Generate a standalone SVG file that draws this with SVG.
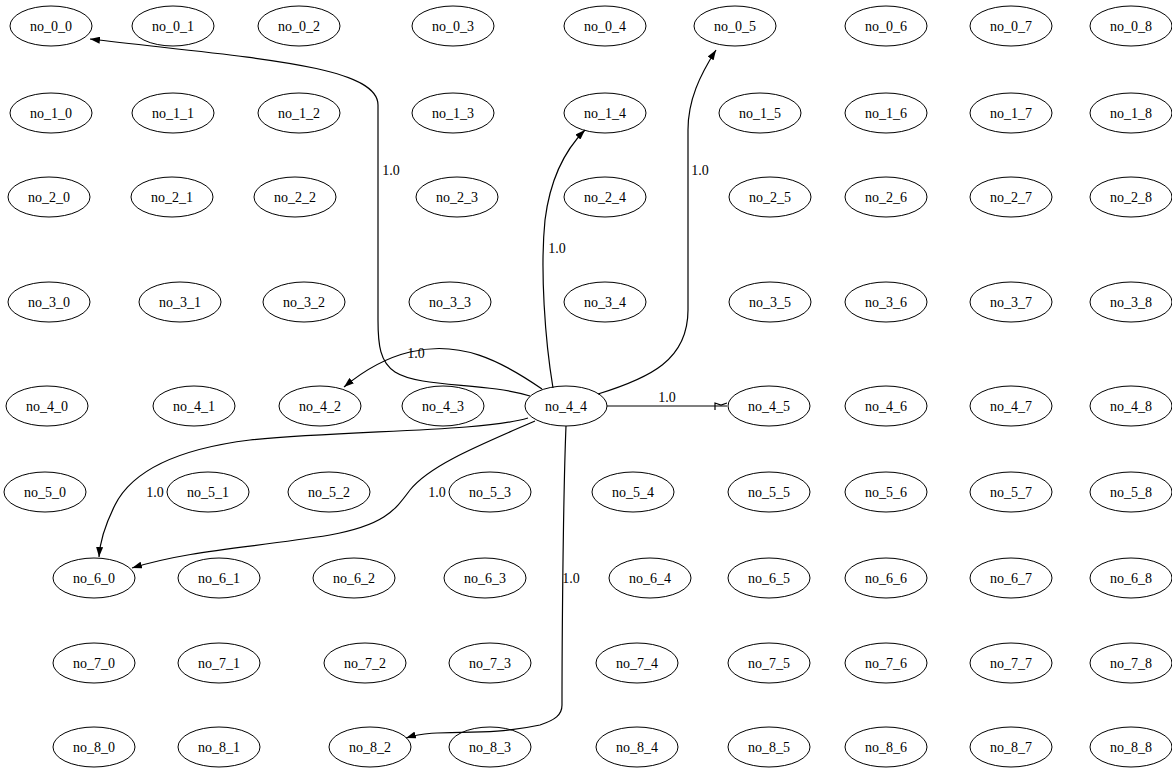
<svg xmlns="http://www.w3.org/2000/svg" width="1172" height="769" viewBox="0 0 1172 769">
<style>
.node ellipse{fill:none;stroke:#000;stroke-width:1}
text{font-family:"Liberation Serif","Times New Roman",serif;font-size:14px;text-anchor:middle;fill:#000}
.edges path{fill:none;stroke:#000;stroke-width:1.2}
</style>
<defs>
<marker id="ah" viewBox="0 0 10 7" refX="10" refY="3.5" markerWidth="10" markerHeight="7" markerUnits="userSpaceOnUse" orient="auto">
<path d="M0,0 L10,3.5 L0,7 z" fill="#000"/>
</marker>
</defs>
<rect width="1172" height="769" fill="#fff"/>
<g class="edges">
<path d="M530,396 C485,382 420,388 395,372 C380,362 378,345 378,320 L378,105 C378,65 250,58 90,39" marker-end="url(#ah)"/>
<path d="M598,394 C650,378 688,360 688,310 L688,130 C688,100 700,75 716,50" marker-end="url(#ah)"/>
<path d="M553,388 C545,340 540,270 545,220 C550,180 565,150 585,130" marker-end="url(#ah)"/>
<path d="M542,389 C500,360 460,340 410,352 C385,358 362,372 344,387" marker-end="url(#ah)"/>
<path d="M607,406 L727,406"/>
<path d="M715,410 L715,403 L721,405 L727,403" stroke-width="1.6"/>
<path d="M528,418 C480,432 350,430 250,440 C170,450 130,475 115,505 C105,525 100,540 99,557" marker-end="url(#ah)"/>
<path d="M535,421 C480,445 430,465 410,490 C395,510 385,525 330,535 C250,548 190,550 132,568" marker-end="url(#ah)"/>
<path d="M566,426 C563,500 562,650 562,705 C562,715 555,720 540,725 C480,738 440,727 406,738" marker-end="url(#ah)"/>
<text x="391" y="175">1.0</text>
<text x="700" y="175">1.0</text>
<text x="557" y="253">1.0</text>
<text x="416" y="358">1.0</text>
<text x="667" y="402">1.0</text>
<text x="155" y="497">1.0</text>
<text x="437" y="497">1.0</text>
<text x="571" y="583">1.0</text>
</g>
<g id="no_0_0" class="node"><ellipse cx="51" cy="26" rx="41" ry="20"/><text x="51" y="31">no_0_0</text></g>
<g id="no_0_1" class="node"><ellipse cx="173" cy="26" rx="41" ry="20"/><text x="173" y="31">no_0_1</text></g>
<g id="no_0_2" class="node"><ellipse cx="299" cy="26" rx="41" ry="20"/><text x="299" y="31">no_0_2</text></g>
<g id="no_0_3" class="node"><ellipse cx="453" cy="26" rx="41" ry="20"/><text x="453" y="31">no_0_3</text></g>
<g id="no_0_4" class="node"><ellipse cx="605" cy="26" rx="41" ry="20"/><text x="605" y="31">no_0_4</text></g>
<g id="no_0_5" class="node"><ellipse cx="735" cy="26" rx="41" ry="20"/><text x="735" y="31">no_0_5</text></g>
<g id="no_0_6" class="node"><ellipse cx="886" cy="26" rx="41" ry="20"/><text x="886" y="31">no_0_6</text></g>
<g id="no_0_7" class="node"><ellipse cx="1011" cy="26" rx="41" ry="20"/><text x="1011" y="31">no_0_7</text></g>
<g id="no_0_8" class="node"><ellipse cx="1131" cy="26" rx="41" ry="20"/><text x="1131" y="31">no_0_8</text></g>
<g id="no_1_0" class="node"><ellipse cx="51" cy="113" rx="41" ry="20"/><text x="51" y="118">no_1_0</text></g>
<g id="no_1_1" class="node"><ellipse cx="173" cy="113" rx="41" ry="20"/><text x="173" y="118">no_1_1</text></g>
<g id="no_1_2" class="node"><ellipse cx="299" cy="113" rx="41" ry="20"/><text x="299" y="118">no_1_2</text></g>
<g id="no_1_3" class="node"><ellipse cx="453" cy="113" rx="41" ry="20"/><text x="453" y="118">no_1_3</text></g>
<g id="no_1_4" class="node"><ellipse cx="605" cy="113" rx="41" ry="20"/><text x="605" y="118">no_1_4</text></g>
<g id="no_1_5" class="node"><ellipse cx="760" cy="113" rx="41" ry="20"/><text x="760" y="118">no_1_5</text></g>
<g id="no_1_6" class="node"><ellipse cx="886" cy="113" rx="41" ry="20"/><text x="886" y="118">no_1_6</text></g>
<g id="no_1_7" class="node"><ellipse cx="1011" cy="113" rx="41" ry="20"/><text x="1011" y="118">no_1_7</text></g>
<g id="no_1_8" class="node"><ellipse cx="1131" cy="113" rx="41" ry="20"/><text x="1131" y="118">no_1_8</text></g>
<g id="no_2_0" class="node"><ellipse cx="49" cy="197" rx="41" ry="20"/><text x="49" y="202">no_2_0</text></g>
<g id="no_2_1" class="node"><ellipse cx="172" cy="197" rx="41" ry="20"/><text x="172" y="202">no_2_1</text></g>
<g id="no_2_2" class="node"><ellipse cx="295" cy="197" rx="41" ry="20"/><text x="295" y="202">no_2_2</text></g>
<g id="no_2_3" class="node"><ellipse cx="457" cy="197" rx="41" ry="20"/><text x="457" y="202">no_2_3</text></g>
<g id="no_2_4" class="node"><ellipse cx="605" cy="197" rx="41" ry="20"/><text x="605" y="202">no_2_4</text></g>
<g id="no_2_5" class="node"><ellipse cx="770" cy="197" rx="41" ry="20"/><text x="770" y="202">no_2_5</text></g>
<g id="no_2_6" class="node"><ellipse cx="886" cy="197" rx="41" ry="20"/><text x="886" y="202">no_2_6</text></g>
<g id="no_2_7" class="node"><ellipse cx="1011" cy="197" rx="41" ry="20"/><text x="1011" y="202">no_2_7</text></g>
<g id="no_2_8" class="node"><ellipse cx="1131" cy="197" rx="41" ry="20"/><text x="1131" y="202">no_2_8</text></g>
<g id="no_3_0" class="node"><ellipse cx="49" cy="302" rx="41" ry="20"/><text x="49" y="307">no_3_0</text></g>
<g id="no_3_1" class="node"><ellipse cx="180" cy="302" rx="41" ry="20"/><text x="180" y="307">no_3_1</text></g>
<g id="no_3_2" class="node"><ellipse cx="304" cy="302" rx="41" ry="20"/><text x="304" y="307">no_3_2</text></g>
<g id="no_3_3" class="node"><ellipse cx="450" cy="302" rx="41" ry="20"/><text x="450" y="307">no_3_3</text></g>
<g id="no_3_4" class="node"><ellipse cx="605" cy="302" rx="41" ry="20"/><text x="605" y="307">no_3_4</text></g>
<g id="no_3_5" class="node"><ellipse cx="770" cy="302" rx="41" ry="20"/><text x="770" y="307">no_3_5</text></g>
<g id="no_3_6" class="node"><ellipse cx="886" cy="302" rx="41" ry="20"/><text x="886" y="307">no_3_6</text></g>
<g id="no_3_7" class="node"><ellipse cx="1011" cy="302" rx="41" ry="20"/><text x="1011" y="307">no_3_7</text></g>
<g id="no_3_8" class="node"><ellipse cx="1131" cy="302" rx="41" ry="20"/><text x="1131" y="307">no_3_8</text></g>
<g id="no_4_0" class="node"><ellipse cx="47" cy="406" rx="41" ry="20"/><text x="47" y="411">no_4_0</text></g>
<g id="no_4_1" class="node"><ellipse cx="194" cy="406" rx="41" ry="20"/><text x="194" y="411">no_4_1</text></g>
<g id="no_4_2" class="node"><ellipse cx="320" cy="406" rx="41" ry="20"/><text x="320" y="411">no_4_2</text></g>
<g id="no_4_3" class="node"><ellipse cx="443" cy="406" rx="41" ry="20"/><text x="443" y="411">no_4_3</text></g>
<g id="no_4_4" class="node"><ellipse cx="566" cy="406" rx="41" ry="20"/><text x="566" y="411">no_4_4</text></g>
<g id="no_4_5" class="node"><ellipse cx="769" cy="406" rx="41" ry="20"/><text x="769" y="411">no_4_5</text></g>
<g id="no_4_6" class="node"><ellipse cx="886" cy="406" rx="41" ry="20"/><text x="886" y="411">no_4_6</text></g>
<g id="no_4_7" class="node"><ellipse cx="1011" cy="406" rx="41" ry="20"/><text x="1011" y="411">no_4_7</text></g>
<g id="no_4_8" class="node"><ellipse cx="1131" cy="406" rx="41" ry="20"/><text x="1131" y="411">no_4_8</text></g>
<g id="no_5_0" class="node"><ellipse cx="45" cy="492" rx="41" ry="20"/><text x="45" y="497">no_5_0</text></g>
<g id="no_5_1" class="node"><ellipse cx="208" cy="492" rx="41" ry="20"/><text x="208" y="497">no_5_1</text></g>
<g id="no_5_2" class="node"><ellipse cx="329" cy="492" rx="41" ry="20"/><text x="329" y="497">no_5_2</text></g>
<g id="no_5_3" class="node"><ellipse cx="490" cy="492" rx="41" ry="20"/><text x="490" y="497">no_5_3</text></g>
<g id="no_5_4" class="node"><ellipse cx="633" cy="492" rx="41" ry="20"/><text x="633" y="497">no_5_4</text></g>
<g id="no_5_5" class="node"><ellipse cx="769" cy="492" rx="41" ry="20"/><text x="769" y="497">no_5_5</text></g>
<g id="no_5_6" class="node"><ellipse cx="886" cy="492" rx="41" ry="20"/><text x="886" y="497">no_5_6</text></g>
<g id="no_5_7" class="node"><ellipse cx="1011" cy="492" rx="41" ry="20"/><text x="1011" y="497">no_5_7</text></g>
<g id="no_5_8" class="node"><ellipse cx="1131" cy="492" rx="41" ry="20"/><text x="1131" y="497">no_5_8</text></g>
<g id="no_6_0" class="node"><ellipse cx="94" cy="578" rx="41" ry="20"/><text x="94" y="583">no_6_0</text></g>
<g id="no_6_1" class="node"><ellipse cx="219" cy="578" rx="41" ry="20"/><text x="219" y="583">no_6_1</text></g>
<g id="no_6_2" class="node"><ellipse cx="354" cy="578" rx="41" ry="20"/><text x="354" y="583">no_6_2</text></g>
<g id="no_6_3" class="node"><ellipse cx="485" cy="578" rx="41" ry="20"/><text x="485" y="583">no_6_3</text></g>
<g id="no_6_4" class="node"><ellipse cx="650" cy="578" rx="41" ry="20"/><text x="650" y="583">no_6_4</text></g>
<g id="no_6_5" class="node"><ellipse cx="769" cy="578" rx="41" ry="20"/><text x="769" y="583">no_6_5</text></g>
<g id="no_6_6" class="node"><ellipse cx="886" cy="578" rx="41" ry="20"/><text x="886" y="583">no_6_6</text></g>
<g id="no_6_7" class="node"><ellipse cx="1011" cy="578" rx="41" ry="20"/><text x="1011" y="583">no_6_7</text></g>
<g id="no_6_8" class="node"><ellipse cx="1131" cy="578" rx="41" ry="20"/><text x="1131" y="583">no_6_8</text></g>
<g id="no_7_0" class="node"><ellipse cx="94" cy="663" rx="41" ry="20"/><text x="94" y="668">no_7_0</text></g>
<g id="no_7_1" class="node"><ellipse cx="219" cy="663" rx="41" ry="20"/><text x="219" y="668">no_7_1</text></g>
<g id="no_7_2" class="node"><ellipse cx="365" cy="663" rx="41" ry="20"/><text x="365" y="668">no_7_2</text></g>
<g id="no_7_3" class="node"><ellipse cx="490" cy="663" rx="41" ry="20"/><text x="490" y="668">no_7_3</text></g>
<g id="no_7_4" class="node"><ellipse cx="637" cy="663" rx="41" ry="20"/><text x="637" y="668">no_7_4</text></g>
<g id="no_7_5" class="node"><ellipse cx="769" cy="663" rx="41" ry="20"/><text x="769" y="668">no_7_5</text></g>
<g id="no_7_6" class="node"><ellipse cx="886" cy="663" rx="41" ry="20"/><text x="886" y="668">no_7_6</text></g>
<g id="no_7_7" class="node"><ellipse cx="1011" cy="663" rx="41" ry="20"/><text x="1011" y="668">no_7_7</text></g>
<g id="no_7_8" class="node"><ellipse cx="1131" cy="663" rx="41" ry="20"/><text x="1131" y="668">no_7_8</text></g>
<g id="no_8_0" class="node"><ellipse cx="94" cy="747" rx="41" ry="20"/><text x="94" y="752">no_8_0</text></g>
<g id="no_8_1" class="node"><ellipse cx="219" cy="747" rx="41" ry="20"/><text x="219" y="752">no_8_1</text></g>
<g id="no_8_2" class="node"><ellipse cx="370" cy="747" rx="41" ry="20"/><text x="370" y="752">no_8_2</text></g>
<g id="no_8_3" class="node"><ellipse cx="490" cy="747" rx="41" ry="20"/><text x="490" y="752">no_8_3</text></g>
<g id="no_8_4" class="node"><ellipse cx="637" cy="747" rx="41" ry="20"/><text x="637" y="752">no_8_4</text></g>
<g id="no_8_5" class="node"><ellipse cx="769" cy="747" rx="41" ry="20"/><text x="769" y="752">no_8_5</text></g>
<g id="no_8_6" class="node"><ellipse cx="886" cy="747" rx="41" ry="20"/><text x="886" y="752">no_8_6</text></g>
<g id="no_8_7" class="node"><ellipse cx="1011" cy="747" rx="41" ry="20"/><text x="1011" y="752">no_8_7</text></g>
<g id="no_8_8" class="node"><ellipse cx="1131" cy="747" rx="41" ry="20"/><text x="1131" y="752">no_8_8</text></g>
</svg>
